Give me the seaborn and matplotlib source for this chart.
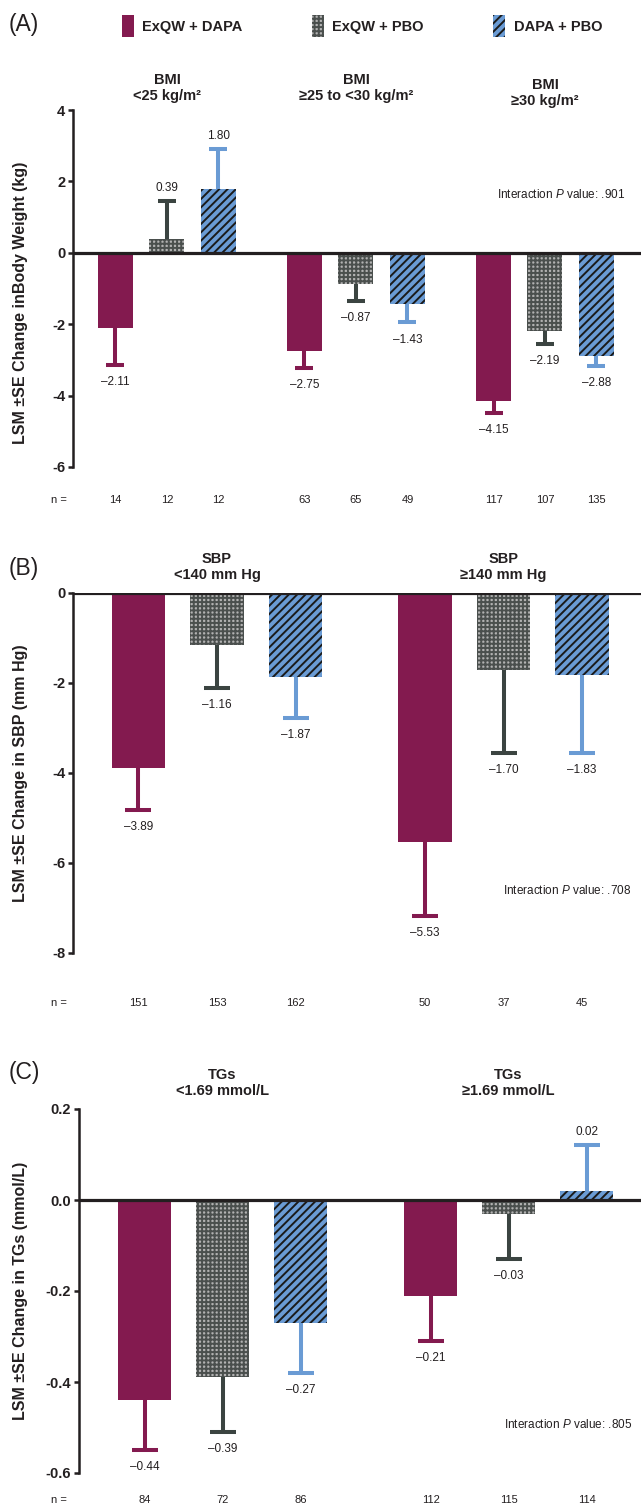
import numpy as np
import pandas as pd
import matplotlib
matplotlib.use("Agg")
import matplotlib.pyplot as plt
import matplotlib.transforms as mtransforms
from matplotlib.patches import Patch
import seaborn as sns

sns.set_style("white")
plt.rcParams['font.family'] = ['Liberation Sans', 'DejaVu Sans']
plt.rcParams['axes.unicode_minus'] = False
plt.rcParams['hatch.linewidth'] = 1.4
plt.rcParams['mathtext.fontset'] = 'custom'
plt.rcParams['mathtext.rm'] = 'Liberation Sans'
plt.rcParams['mathtext.it'] = 'Liberation Sans:italic'

treatments = ["ExQW + DAPA", "ExQW + PBO", "DAPA + PBO"]

# (A) body weight by BMI
bmi_groups = ["BMI\n<25 kg/m²", "BMI\n≥25 to <30 kg/m²", "BMI\n≥30 kg/m²"]
bmi_exqw_dapa = [-2.11, -2.75, -4.15]
bmi_exqw_pbo = [0.39, -0.87, -2.19]
bmi_dapa_pbo = [1.80, -1.43, -2.88]
bmi_se_exqw_dapa = [1.03, 0.47, 0.33]
bmi_se_exqw_pbo = [1.07, 0.47, 0.36]
bmi_se_dapa_pbo = [1.10, 0.52, 0.30]
bmi_n_exqw_dapa = [14, 63, 117]
bmi_n_exqw_pbo = [12, 65, 107]
bmi_n_dapa_pbo = [12, 49, 135]

# (B) SBP
sbp_groups = ["SBP\n<140 mm Hg", "SBP\n≥140 mm Hg"]
sbp_exqw_dapa = [-3.89, -5.53]
sbp_exqw_pbo = [-1.16, -1.70]
sbp_dapa_pbo = [-1.87, -1.83]
sbp_se_exqw_dapa = [0.93, 1.64]
sbp_se_exqw_pbo = [0.94, 1.85]
sbp_se_dapa_pbo = [0.90, 1.72]
sbp_n_exqw_dapa = [151, 50]
sbp_n_exqw_pbo = [153, 37]
sbp_n_dapa_pbo = [162, 45]

# (C) TGs
tg_groups = ["TGs\n<1.69 mmol/L", "TGs\n≥1.69 mmol/L"]
tg_exqw_dapa = [-0.44, -0.21]
tg_exqw_pbo = [-0.39, -0.03]
tg_dapa_pbo = [-0.27, 0.02]
tg_se_exqw_dapa = [0.11, 0.10]
tg_se_exqw_pbo = [0.12, 0.10]
tg_se_dapa_pbo = [0.11, 0.10]
tg_n_exqw_dapa = [84, 112]
tg_n_exqw_pbo = [72, 115]
tg_n_dapa_pbo = [86, 114]

bar_colors = {"ExQW + DAPA": "#831A4F", "ExQW + PBO": "#B2B2B2", "DAPA + PBO": "#6A9BD4"}
hatch_colors = {"ExQW + DAPA": "#831A4F", "ExQW + PBO": "#4A4F4D", "DAPA + PBO": "#1A1A1A"}
hatches = {"ExQW + DAPA": "", "ExQW + PBO": "++++", "DAPA + PBO": "////"}
err_colors = {"ExQW + DAPA": "#831A4F", "ExQW + PBO": "#3B4441", "DAPA + PBO": "#6A9BD4"}
TXT = "#231F20"

W, H = 641, 1510
fig = plt.figure(figsize=(W / 100, H / 100), dpi=100)


def px_rect(left, top, right, bottom):
    return [left / W, 1 - bottom / H, (right - left) / W, (bottom - top) / H]


def make_df(groups, vals, ses, ns):
    rows = []
    for t, v, s, n in zip(treatments, vals, ses, ns):
        for g, vv, ss, nn in zip(groups, v, s, n):
            rows.append({"group": g, "treatment": t, "value": vv, "se": ss, "n": nn})
    return pd.DataFrame(rows)


def panel(rect, df, groups, ylim, yticks, fmt, ylabel, label_y, width, xlim, capsize,
          header_y, n_y, ptext, p_xy, letter, letter_y):
    ax = fig.add_axes(px_rect(*rect))
    sns.barplot(data=df, x="group", y="value", hue="treatment", order=groups,
                hue_order=treatments, palette=bar_colors, width=width, gap=0.32,
                errorbar=None, legend=False, saturation=1, ax=ax)
    for t, cont in zip(treatments, ax.containers):
        for p in cont.patches:
            p.set_hatch(hatches[t])
            p.set_edgecolor(hatch_colors[t])
            p.set_linewidth(0)
            p.set_zorder(2)
            xc = p.get_x() + p.get_width() / 2
            gi = int(round(xc))
            row = df[(df.treatment == t) & (df.group == groups[gi])].iloc[0]
            v, se = row.value, row.se
            yerr = [[0], [se]] if v >= 0 else [[se], [0]]
            eb = ax.errorbar([xc], [v], yerr=yerr, fmt="none", ecolor=err_colors[t],
                             elinewidth=2.9, capsize=capsize, capthick=2.9, zorder=1)
            caps = eb[1]
            # keep only the cap at the far end of the error bar
            caps[0 if v >= 0 else 1].set_visible(False)
            lab = f"{abs(v):.2f}"
            if v >= 0:
                ax.annotate(lab, xy=(xc, v + se), xytext=(0, 5), textcoords="offset points",
                            ha="center", va="bottom", fontsize=8.5, color=TXT)
            else:
                ax.annotate("\u2013" + lab, xy=(xc, v - se), xytext=(0, -8),
                            textcoords="offset points", ha="center", va="top",
                            fontsize=8.5, color=TXT)
            ax.text(xc, n_y, str(int(row.n)), transform=mtransforms.blended_transform_factory(
                ax.transData, fig.transFigure), ha="center", va="center", fontsize=8, color=TXT)
    ax.axhline(0, color=TXT, lw=2.3, zorder=3)
    ax.set_ylim(*ylim)
    ax.set_xlim(*xlim)
    ax.set_yticks(yticks)
    ax.set_yticklabels([fmt.format(v) for v in yticks], fontweight="bold", fontsize=10.5, color=TXT)
    ax.tick_params(axis="y", direction="out", length=3.5, width=1.8, color=TXT, pad=2, left=True)
    ax.tick_params(axis="x", bottom=False, labelbottom=False)
    ax.set_xlabel("")
    ax.set_ylabel(ylabel, fontweight="bold", fontsize=11.5, color=TXT)
    ax.yaxis.set_label_coords(-(rect[0] - 28) / (rect[2] - rect[0]), label_y)
    for s in ["top", "right", "bottom"]:
        ax.spines[s].set_visible(False)
    ax.spines["left"].set_linewidth(1.8)
    ax.spines["left"].set_color(TXT)
    ax.set_facecolor("none")
    tr = mtransforms.blended_transform_factory(ax.transData, fig.transFigure)
    for gi, g in enumerate(groups):
        ax.text(gi, 1 - header_y[gi] / H, g, transform=tr, ha="center", va="center",
                fontweight="bold", fontsize=10.5, color=TXT, linespacing=1.25)
    fig.text(59 / W, n_y, "n =", ha="center", va="center", fontsize=8, color=TXT)
    fig.text(p_xy[0] / W, 1 - p_xy[1] / H, ptext, ha="right", va="center", fontsize=8.5, color=TXT)
    fig.text(9 / W, 1 - letter_y / H, letter, ha="left", va="center", fontsize=16.5, color=TXT)
    return ax


df_a = make_df(bmi_groups, [bmi_exqw_dapa, bmi_exqw_pbo, bmi_dapa_pbo],
               [bmi_se_exqw_dapa, bmi_se_exqw_pbo, bmi_se_dapa_pbo],
               [bmi_n_exqw_dapa, bmi_n_exqw_pbo, bmi_n_dapa_pbo])
df_b = make_df(sbp_groups, [sbp_exqw_dapa, sbp_exqw_pbo, sbp_dapa_pbo],
               [sbp_se_exqw_dapa, sbp_se_exqw_pbo, sbp_se_dapa_pbo],
               [sbp_n_exqw_dapa, sbp_n_exqw_pbo, sbp_n_dapa_pbo])
df_c = make_df(tg_groups, [tg_exqw_dapa, tg_exqw_pbo, tg_dapa_pbo],
               [tg_se_exqw_dapa, tg_se_exqw_pbo, tg_se_dapa_pbo],
               [tg_n_exqw_dapa, tg_n_exqw_pbo, tg_n_dapa_pbo])

panel((73, 110, 641, 467), df_a, bmi_groups, (-6, 4), [-6, -4, -2, 0, 2, 4], "{:d}",
      "LSM \u00b1SE Change inBody Weight (kg)", 0.46, 0.817, (-0.497, 2.508), 6.5,
      [88, 88, 93], 1 - 500 / H, r"Interaction $\mathit{P}$ value: .901", (625, 195), "(A)", 25)
panel((73, 593, 641, 953), df_b, sbp_groups, (-8, 0), [-8, -6, -4, -2, 0], "{:d}",
      "LSM \u00b1SE Change in SBP (mm Hg)", 0.5, 0.823, (-0.503, 1.48), 9.7,
      [567, 567], 1 - 1003 / H, r"Interaction $\mathit{P}$ value: .708", (631, 890), "(B)", 568)
panel((79, 1109, 641, 1473), df_c, tg_groups, (-0.6, 0.2), [-0.6, -0.4, -0.2, 0.0, 0.2], "{:.1f}",
      "LSM \u00b1SE Change in TGs (mmol/L)", 0.5, 0.818, (-0.502, 1.463), 9.7,
      [1083, 1083], 1 - 1500 / H, r"Interaction $\mathit{P}$ value: .805", (632, 1425), "(C)", 1073)

handles = [Patch(facecolor=bar_colors[t], edgecolor=hatch_colors[t], hatch=hatches[t], lw=0)
           for t in treatments]
leg = fig.legend(handles, treatments, loc="center", bbox_to_anchor=(362 / W, 1 - 26 / H),
                 ncol=3, frameon=False, handlelength=0.8, handleheight=2.0, handletextpad=0.6,
                 columnspacing=4.75, prop={"weight": "bold", "size": 10.5})
for t in leg.get_texts():
    t.set_color(TXT)

fig.savefig("out.png", dpi=100)
